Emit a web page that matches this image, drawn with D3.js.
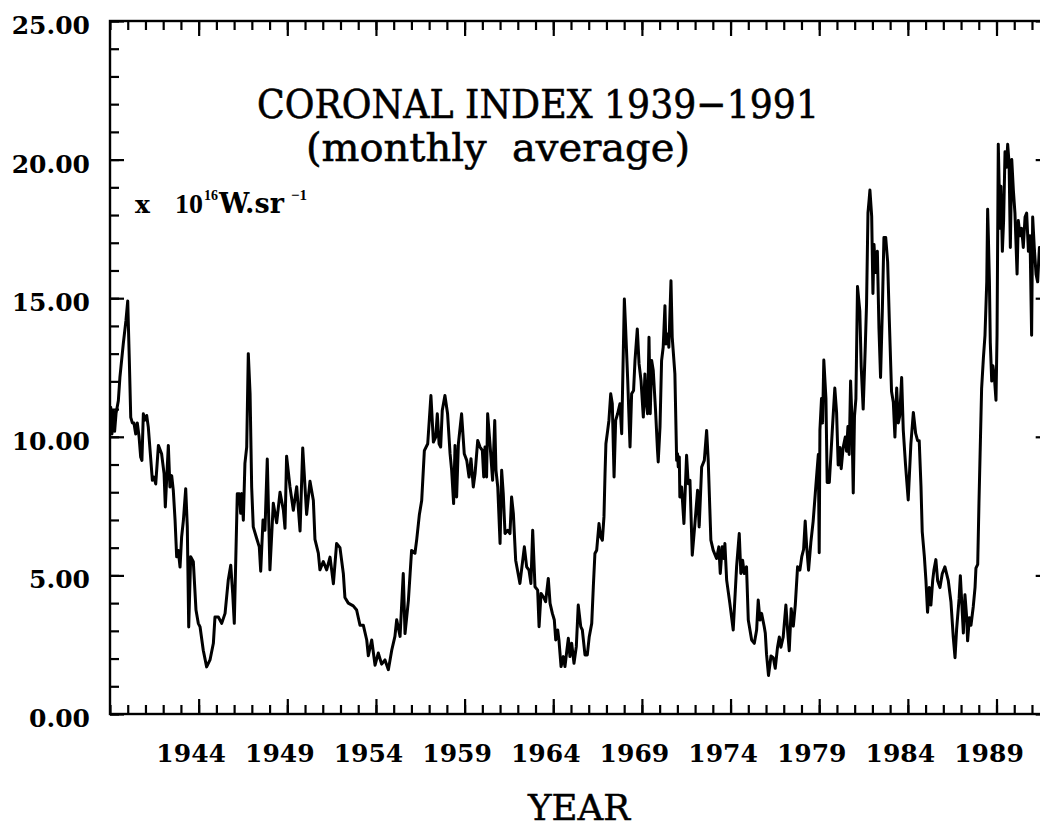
<!DOCTYPE html>
<html>
<head>
<meta charset="utf-8">
<script src="https://cdn.jsdelivr.net/npm/d3@7/dist/d3.min.js"></script>
<style>
  html, body { margin: 0; padding: 0; background: #fff; }
  svg { display: block; }
</style>
</head>
<body>
<svg id="chart" width="1040" height="829"></svg>
<script>
// ---- data (decimal year, coronal index x1e16 W/sr) ----
const years = [
1939.00,1939.04,1939.11,1939.19,1939.26,1939.34,1939.47,1939.56,1939.75,1939.90,
1940.00,1940.09,1940.17,1940.26,1940.35,1940.45,1940.54,1940.64,1940.73,1940.80,
1940.88,1940.97,1941.07,1941.16,1941.29,1941.39,1941.48,1941.58,1941.73,1941.91,
1942.05,1942.12,1942.29,1942.38,1942.48,1942.57,1942.67,1942.76,1942.85,1942.95,
1943.04,1943.14,1943.27,1943.36,1943.44,1943.55,1943.70,1943.85,1943.98,1944.08,
1944.26,1944.45,1944.64,1944.83,1944.92,1945.11,1945.30,1945.49,1945.67,1945.81,
1945.92,1946.01,1946.11,1946.18,1946.29,1946.37,1946.44,1946.52,1946.61,1946.71,
1946.80,1946.90,1946.99,1947.08,1947.27,1947.42,1947.50,1947.63,1947.74,1947.87,
1948.02,1948.21,1948.40,1948.59,1948.78,1948.87,1948.96,1949.15,1949.34,1949.53,
1949.72,1949.87,1950.09,1950.28,1950.47,1950.56,1950.75,1950.84,1951.03,1951.22,
1951.41,1951.60,1951.78,1951.97,1952.16,1952.25,1952.44,1952.72,1952.91,1953.10,
1953.29,1953.48,1953.57,1953.76,1953.95,1954.13,1954.32,1954.51,1954.70,1954.89,
1955.07,1955.17,1955.36,1955.54,1955.64,1955.83,1956.01,1956.20,1956.30,1956.45,
1956.58,1956.73,1956.92,1957.10,1957.24,1957.37,1957.46,1957.56,1957.65,1957.74,
1957.89,1958.04,1958.18,1958.27,1958.38,1958.46,1958.55,1958.65,1958.83,1958.98,
1959.12,1959.25,1959.36,1959.49,1959.59,1959.74,1959.87,1960.00,1960.08,1960.15,
1960.24,1960.30,1960.43,1960.58,1960.70,1960.77,1960.87,1961.00,1961.09,1961.18,
1961.28,1961.43,1961.56,1961.65,1961.75,1961.88,1962.12,1962.37,1962.50,1962.63,
1962.74,1962.84,1962.97,1963.12,1963.20,1963.31,1963.44,1963.57,1963.72,1963.82,
1963.95,1964.06,1964.14,1964.25,1964.32,1964.44,1964.57,1964.66,1964.77,1964.85,
1964.94,1965.04,1965.17,1965.30,1965.41,1965.55,1965.64,1965.79,1965.92,1966.03,
1966.17,1966.26,1966.35,1966.45,1966.58,1966.67,1966.77,1966.86,1966.92,1966.97,
1967.07,1967.14,1967.24,1967.33,1967.43,1967.52,1967.63,1967.76,1967.86,1967.93,
1968.01,1968.08,1968.20,1968.33,1968.42,1968.53,1968.61,1968.74,1968.84,1968.95,
1969.08,1969.17,1969.23,1969.32,1969.40,1969.47,1969.55,1969.64,1969.77,1969.88,
1969.92,1970.02,1970.11,1970.20,1970.30,1970.35,1970.45,1970.52,1970.64,1970.71,
1970.86,1970.96,1971.01,1971.05,1971.11,1971.14,1971.24,1971.37,1971.52,1971.61,
1971.71,1971.84,1971.99,1972.14,1972.23,1972.37,1972.52,1972.65,1972.74,1972.89,
1973.02,1973.21,1973.34,1973.42,1973.53,1973.63,1973.68,1973.78,1973.96,1974.15,
1974.34,1974.49,1974.58,1974.68,1974.77,1974.90,1975.00,1975.19,1975.34,1975.47,
1975.56,1975.66,1975.75,1975.90,1975.96,1976.03,1976.14,1976.28,1976.41,1976.52,
1976.65,1976.75,1976.84,1976.97,1977.12,1977.23,1977.31,1977.42,1977.54,1977.65,
1977.78,1977.91,1978.02,1978.12,1978.21,1978.29,1978.40,1978.53,1978.66,1978.78,
1978.87,1978.95,1979.00,1979.04,1979.13,1979.19,1979.26,1979.38,1979.45,1979.57,
1979.66,1979.75,1979.88,1979.98,1980.07,1980.17,1980.24,1980.35,1980.47,1980.54,
1980.62,1980.69,1980.77,1980.84,1980.92,1980.99,1981.07,1981.16,1981.29,1981.37,
1981.48,1981.60,1981.67,1981.75,1981.82,1981.86,1981.96,1982.03,1982.09,1982.18,
1982.28,1982.37,1982.46,1982.56,1982.65,1982.75,1982.86,1982.95,1983.08,1983.18,
1983.27,1983.37,1983.46,1983.54,1983.65,1983.74,1983.87,1984.02,1984.17,1984.31,
1984.44,1984.55,1984.64,1984.74,1984.81,1984.93,1985.02,1985.11,1985.21,1985.30,
1985.40,1985.47,1985.58,1985.68,1985.81,1985.94,1986.09,1986.28,1986.43,1986.56,
1986.66,1986.75,1986.89,1986.96,1987.04,1987.13,1987.22,1987.32,1987.37,1987.47,
1987.56,1987.69,1987.79,1987.84,1987.94,1988.01,1988.07,1988.16,1988.26,1988.35,
1988.45,1988.50,1988.54,1988.60,1988.65,1988.73,1988.80,1988.88,1988.97,1989.03,
1989.10,1989.20,1989.25,1989.33,1989.40,1989.48,1989.56,1989.63,1989.71,1989.78,
1989.86,1989.95,1990.04,1990.16,1990.23,1990.33,1990.42,1990.51,1990.61,1990.70,
1990.80,1990.89,1990.98,1991.04,1991.13,1991.23,1991.32,1991.42,1991.50
];
const values = [
10.4,11.07,10.1,10.95,10.2,10.84,11.3,12.15,13.36,14.2,
14.9,12.75,10.7,10.5,10.5,10.1,10.5,10.0,9.27,9.15,
10.83,10.6,10.77,10.35,9.27,8.43,8.55,8.3,9.69,9.39,
8.67,7.47,9.69,8.19,8.6,8.07,6.99,5.67,5.9,5.3,
6.39,6.99,8.13,6.75,3.14,5.67,5.49,3.75,3.27,3.14,
2.3,1.7,1.95,2.55,3.5,3.5,3.27,3.63,4.83,5.37,
4.35,3.27,6.03,7.95,7.95,7.24,7.95,6.99,9.04,9.63,
13.0,11.56,8.19,6.75,6.34,6.03,5.15,7.0,6.63,9.2,
5.2,7.6,6.9,8.0,7.35,6.7,9.3,8.2,7.35,8.2,
6.6,9.6,7.2,8.4,7.7,6.3,5.8,5.2,5.5,5.2,
5.66,4.7,6.15,6.0,5.07,4.2,4.0,3.9,3.75,3.2,
3.2,2.67,2.1,2.67,1.76,2.2,1.8,1.95,1.6,2.3,
2.8,3.4,2.8,5.07,2.9,4.1,5.9,5.8,6.3,7.2,
7.7,9.5,9.75,11.49,9.81,9.99,10.83,9.75,9.63,10.95,
11.49,10.83,9.39,8.79,7.59,9.69,7.83,9.75,10.83,9.39,
9.15,8.55,9.21,8.19,8.67,9.87,9.63,9.51,8.55,9.63,
8.55,10.83,9.75,8.43,10.59,8.79,8.19,6.15,8.79,7.95,
6.51,6.63,6.51,7.83,7.23,5.55,4.71,6.03,5.31,5.19,
4.71,6.63,4.59,4.47,3.15,4.35,4.23,4.05,4.89,3.99,
3.63,3.39,2.67,3.03,2.67,1.71,2.07,1.71,2.31,2.73,
2.07,2.55,1.83,2.43,3.93,3.15,3.03,2.13,2.13,2.79,
3.27,4.59,5.79,5.91,6.87,6.39,6.27,7.11,8.67,9.75,
10.23,10.59,11.55,11.19,8.55,10.59,10.83,11.19,10.11,12.39,
14.97,13.95,12.03,9.63,11.55,11.67,12.75,13.89,12.63,12.03,
10.71,12.27,11.31,10.83,13.59,10.83,12.75,12.39,10.95,9.51,
9.09,10.35,12.75,13.23,14.73,13.35,13.71,13.23,15.63,13.59,
12.27,9.15,9.39,8.91,9.27,7.83,8.19,6.87,9.33,8.31,
8.43,5.73,6.87,8.07,6.75,8.91,9.15,10.23,9.15,6.27,
5.91,5.61,6.03,5.07,6.03,5.61,6.15,4.83,3.99,3.03,
5.31,6.51,5.07,5.55,5.07,5.31,3.39,2.67,2.55,3.03,
4.11,3.39,3.63,3.15,2.91,2.15,1.39,2.09,2.03,1.65,
2.41,2.78,2.41,2.78,3.93,2.91,2.28,3.80,3.17,3.93,
5.31,5.19,5.69,5.94,6.96,6.07,5.19,6.20,6.96,7.97,
8.72,9.36,5.82,10.25,11.38,10.50,12.77,11.38,8.35,8.35,
9.36,10.37,11.76,10.88,8.98,9.61,8.85,9.61,9.99,9.48,
10.37,9.36,12.01,10.75,7.97,10.75,11.38,15.42,14.54,12.52,
11.00,13.28,14.79,18.08,18.58,18.90,17.95,15.17,16.94,15.93,
16.69,13.91,12.14,14.54,17.19,17.19,16.31,14.29,11.63,11.25,
9.99,11.76,10.50,10.75,12.14,10.25,8.98,7.72,9.74,10.88,
10.12,9.86,9.86,8.22,6.58,5.69,4.81,3.67,4.56,3.93,
4.81,5.19,5.57,4.81,4.56,5.06,5.31,4.81,4.05,2.78,
2.03,3.06,4.16,4.99,4.02,2.92,4.30,3.47,2.64,3.47,
3.20,3.88,4.57,5.26,5.40,7.60,9.26,11.74,12.84,13.66,
15.59,18.21,17.25,15.59,13.39,12.01,12.56,12.15,11.32,13.66,
20.55,17.52,19.04,16.69,17.80,20.28,19.72,20.55,19.86,16.83,
20.0,18.90,18.07,15.87,17.80,17.25,17.52,16.83,17.93,18.07,
16.69,17.25,13.66,17.93,16.83,15.87,15.59,16.83,16.4
];
const xMinorTicks = d3.range(1939, 1993, 1);
const xLabelYears = [1944, 1949, 1954, 1959, 1964, 1969, 1974, 1979, 1984, 1989];
const yMinorTicks = d3.range(0, 26, 1);
const yLabelValues = [0, 5, 10, 15, 20, 25];
const titleLines = ["CORONAL INDEX 1939\u22121991", "(monthly\u00A0 average)"];
const unitParts = ["x", "10", "16", "W.sr", "\u22121"];
const xTitle = "YEAR";

// ---- layout ----
const svg = d3.select("#chart");
const L = 110, R = 1049.7, T = 21, B = 714;
const x = d3.scaleLinear().domain([1939, 1992]).range([L, R]);
const y = d3.scaleLinear().domain([0, 25]).range([B, T]);
const serif = "'DejaVu Serif', serif";
const times = "'Liberation Serif', serif";

svg.append("rect").attr("width", 1040).attr("height", 829).attr("fill", "#fff");

svg.append("defs").append("clipPath").attr("id", "plotclip")
  .append("rect").attr("x", L).attr("y", T).attr("width", R - L).attr("height", B - T);

function styleAxis(g) {
  g.select(".domain").remove();
  g.selectAll(".tick line").attr("stroke", "#000").attr("stroke-width", 2.2);
}

// bottom axis
svg.append("g").attr("transform", `translate(0,${B})`)
  .call(d3.axisBottom(x).tickValues(xMinorTicks).tickSize(-9).tickSizeOuter(0).tickFormat(""))
  .call(styleAxis);
const bx = svg.append("g").attr("transform", `translate(0,${B})`)
  .call(d3.axisBottom(x).tickValues(xLabelYears).tickSize(-15).tickSizeOuter(0)
    .tickPadding(30).tickFormat(d3.format("d")))
  .call(styleAxis);
bx.selectAll(".tick text").attr("dx", -8).attr("font-family", serif)
  .attr("font-weight", "bold").attr("font-size", 25).attr("fill", "#000");

// top axis
svg.append("g").attr("transform", `translate(0,${T})`)
  .call(d3.axisTop(x).tickValues(xMinorTicks).tickSize(-9).tickSizeOuter(0).tickFormat(""))
  .call(styleAxis);
svg.append("g").attr("transform", `translate(0,${T})`)
  .call(d3.axisTop(x).tickValues(xLabelYears).tickSize(-15).tickSizeOuter(0).tickFormat(""))
  .call(styleAxis);

// left axis
svg.append("g").attr("transform", `translate(${L},0)`)
  .call(d3.axisLeft(y).tickValues(yMinorTicks).tickSize(-9).tickSizeOuter(0).tickFormat(""))
  .call(styleAxis);
const ly = svg.append("g").attr("transform", `translate(${L},0)`)
  .call(d3.axisLeft(y).tickValues(yLabelValues).tickSize(-14).tickSizeOuter(0)
    .tickPadding(20).tickFormat(d3.format(".2f")))
  .call(styleAxis);
ly.selectAll(".tick text").attr("font-family", serif).attr("font-weight", "bold")
  .attr("font-size", 25).attr("fill", "#000").attr("dy", "0.5em");

// right axis
svg.append("g").attr("transform", `translate(${R},0)`)
  .call(d3.axisRight(y).tickValues(yMinorTicks).tickSize(-9).tickSizeOuter(0).tickFormat(""))
  .call(styleAxis);
svg.append("g").attr("transform", `translate(${R},0)`)
  .call(d3.axisRight(y).tickValues(yLabelValues).tickSize(-14).tickSizeOuter(0).tickFormat(""))
  .call(styleAxis);

// frame
svg.append("rect").attr("x", L).attr("y", T).attr("width", R - L).attr("height", B - T)
  .attr("fill", "none").attr("stroke", "#000").attr("stroke-width", 2.4);

// data line
const series = years.map((t, i) => ({ t, v: values[i] }));
svg.append("path").datum(series)
  .attr("clip-path", "url(#plotclip)")
  .attr("fill", "none").attr("stroke", "#000").attr("stroke-width", 3)
  .attr("stroke-linejoin", "round")
  .attr("d", d3.line().x(d => x(d.t)).y(d => y(d.v)));

// titles
svg.append("text").attr("x", 257).attr("y", 118).text(titleLines[0])
  .attr("font-family", serif).attr("font-size", 40).attr("fill", "#000")
  .attr("stroke", "#000").attr("stroke-width", 0.6)
  .attr("textLength", 562).attr("lengthAdjust", "spacingAndGlyphs");
svg.append("text").attr("x", 306).attr("y", 161).text(titleLines[1])
  .attr("font-family", serif).attr("font-size", 40).attr("fill", "#000")
  .attr("stroke", "#000").attr("stroke-width", 0.6)
  .attr("textLength", 384).attr("lengthAdjust", "spacingAndGlyphs");

// unit label  x 10^16 W.sr^-1  (natural widths, no overlaps)
const unitSpec = [
  { t: unitParts[0], x: 135, y: 213, fs: 25, ff: serif },
  { t: unitParts[1], x: 175, y: 213, fs: 28, ff: times },
  { t: unitParts[2], x: 204, y: 200, fs: 14, ff: times },
  { t: unitParts[3], x: 219, y: 213, fs: 27, ff: serif },
  { t: unitParts[4], x: 291, y: 200, fs: 15, ff: times }
];
svg.append("g").selectAll("text").data(unitSpec).join("text")
  .attr("x", d => d.x).attr("y", d => d.y).text(d => d.t)
  .attr("font-family", d => d.ff).attr("font-weight", "bold")
  .attr("font-size", d => d.fs).attr("fill", "#000");

// x title
svg.append("text").attr("x", 528).attr("y", 820).text(xTitle)
  .attr("font-family", serif).attr("font-size", 36).attr("fill", "#000")
  .attr("stroke", "#000").attr("stroke-width", 0.5)
  .attr("textLength", 102).attr("lengthAdjust", "spacingAndGlyphs");
</script>
</body>
</html>
